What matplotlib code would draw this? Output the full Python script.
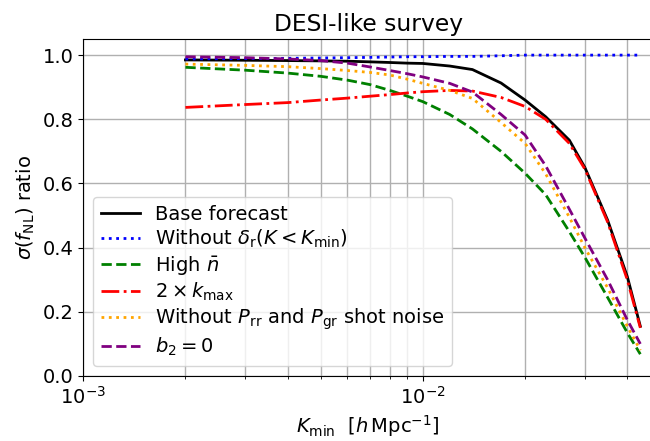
import numpy as np
import matplotlib
matplotlib.use("Agg")
import matplotlib.pyplot as plt

# K_min values (h/Mpc)
kmin = [0.002, 0.003, 0.004, 0.005, 0.006, 0.007, 0.008, 0.009, 0.01, 0.012,
        0.014, 0.017, 0.02, 0.023, 0.027, 0.03, 0.035, 0.04, 0.0437]

# sigma(fNL) ratios
base = [0.985, 0.984, 0.983, 0.982, 0.981, 0.979, 0.977, 0.975, 0.974, 0.966,
        0.955, 0.913, 0.86, 0.808, 0.735, 0.65, 0.486, 0.31, 0.155]
no_delta_r = [0.988, 0.989, 0.990, 0.991, 0.992, 0.993, 0.994, 0.995, 0.995, 0.996,
              0.996, 0.998, 1.0, 1.0, 1.0, 1.0, 1.0, 1.0, 1.0]
high_nbar = [0.962, 0.953, 0.944, 0.934, 0.922, 0.908, 0.89, 0.872, 0.855, 0.815,
             0.77, 0.70, 0.632, 0.565, 0.45, 0.37, 0.245, 0.135, 0.068]
kmax2 = [0.837, 0.846, 0.852, 0.860, 0.866, 0.872, 0.877, 0.882, 0.886, 0.890,
         0.888, 0.868, 0.84, 0.80, 0.725, 0.645, 0.48, 0.30, 0.15]
no_shot = [0.972, 0.968, 0.964, 0.958, 0.952, 0.946, 0.938, 0.925, 0.912, 0.89,
           0.865, 0.79, 0.725, 0.63, 0.495, 0.40, 0.275, 0.155, 0.08]
b2_zero = [0.995, 0.992, 0.988, 0.983, 0.975, 0.963, 0.952, 0.942, 0.932, 0.912,
           0.885, 0.815, 0.751, 0.655, 0.52, 0.43, 0.30, 0.175, 0.10]

plt.rcParams['font.size'] = 14

fig = plt.figure(figsize=(6.5, 4.41), dpi=100)
ax = fig.add_axes([0.128, 0.1474, 0.877, 0.764])

ax.plot(kmin, base, color='black', ls='-', lw=2, label='Base forecast')
ax.plot(kmin, no_delta_r, color='blue', ls=':', lw=2,
        label=r'Without $\delta_{\rm r}(K<K_{\rm min})$')
ax.plot(kmin, high_nbar, color='green', ls='--', lw=2, label=r'High $\bar{n}$')
ax.plot(kmin, kmax2, color='red', ls='-.', lw=2, label=r'$2\times k_{\rm max}$')
ax.plot(kmin, no_shot, color='orange', ls=':', lw=2,
        label=r'Without $P_{\rm rr}$ and $P_{\rm gr}$ shot noise')
ax.plot(kmin, b2_zero, color='purple', ls='--', lw=2, label=r'$b_2=0$')

ax.set_xscale('log')
ax.set_xlim(1e-3, 0.0477)
ax.set_ylim(0, 1.05)
ax.grid(True, which='both', axis='x', color='#b0b0b0', lw=1)
ax.grid(True, which='major', axis='y', color='#b0b0b0', lw=1)

ax.set_title('DESI-like survey')
ax.set_xlabel(r'$K_{\rm min}\ \ [h\,{\rm Mpc}^{-1}]$')
ax.set_ylabel(r'$\sigma(f_{\rm NL})$ ratio')
ax.legend(loc='lower left', labelspacing=0.2)

fig.savefig('out.png', dpi=100)
